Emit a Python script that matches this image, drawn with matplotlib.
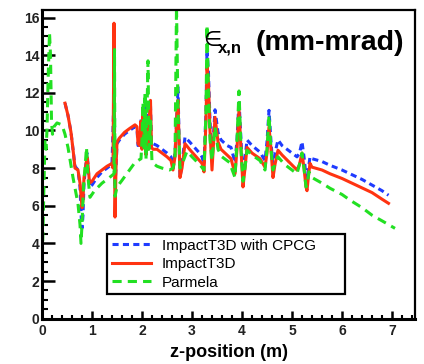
import matplotlib
matplotlib.use("Agg")
import matplotlib.pyplot as plt
from matplotlib.ticker import MultipleLocator

plt.rcParams['font.family'] = ['Liberation Sans', 'DejaVu Sans']

# ImpactT3D with CPCG (blue dashed)
cpcg_z = [0.46, 0.52, 0.58, 0.62, 0.66, 0.72, 0.76, 0.79, 0.80, 0.82, 0.84, 0.87, 0.90, 0.92, 0.95,
          1.00, 1.10, 1.20, 1.30, 1.40, 1.43, 1.44, 1.46, 1.48, 1.50, 1.55, 1.65, 1.75, 1.86, 1.90,
          1.92, 1.95, 1.98, 2.00, 2.02, 2.04, 2.06, 2.08, 2.10, 2.12, 2.15, 2.17, 2.19, 2.22, 2.30,
          2.40, 2.50, 2.58, 2.62, 2.66, 2.70, 2.72, 2.74, 2.76, 2.80, 2.86, 2.95, 3.05, 3.15, 3.20,
          3.24, 3.28, 3.30, 3.33, 3.36, 3.40, 3.46, 3.52, 3.58, 3.70, 3.78, 3.86, 3.90, 3.94, 3.98,
          4.02, 4.06, 4.10, 4.20, 4.36, 4.46, 4.50, 4.54, 4.58, 4.62, 4.66, 4.72, 4.80, 4.95, 5.10,
          5.15, 5.20, 5.24, 5.28, 5.30, 5.33, 5.36, 5.40, 5.60, 5.76, 6.00, 6.16, 6.40, 6.60, 6.80, 6.93]
cpcg_eps = [11.45, 10.8, 9.9, 9.0, 8.1, 7.9, 7.0, 5.0, 4.8, 5.5, 7.2, 8.0, 8.8, 8.2, 7.0,
            7.1, 7.5, 7.8, 8.0, 8.2, 11.0, 14.5, 7.0, 8.0, 9.3, 9.5, 9.8, 10.0, 10.2, 10.1,
            9.2, 9.3, 10.6, 9.1, 11.0, 9.0, 11.3, 8.8, 10.8, 9.1, 11.2, 11.3, 9.3, 9.3, 9.2,
            9.0, 8.8, 8.6, 8.0, 8.8, 11.0, 12.3, 9.8, 7.5, 8.2, 9.65, 9.4, 9.1, 8.8, 8.6,
            8.2, 11.0, 14.3, 13.0, 10.5, 8.5, 11.1, 9.9, 9.5, 9.2, 9.1, 8.3, 9.5, 11.6, 9.5,
            7.5, 8.5, 9.5, 9.2, 8.85, 8.4, 9.4, 11.07, 9.4, 8.0, 8.8, 9.5, 9.2, 8.9, 8.6,
            8.8, 9.4, 8.6, 7.6, 7.4, 8.0, 8.6, 8.5, 8.35, 8.15, 7.9, 7.7, 7.4, 7.1, 6.8, 6.56]

# ImpactT3D (red solid)
impact_z = [0.46, 0.52, 0.58, 0.62, 0.66, 0.72, 0.76, 0.80, 0.82, 0.84, 0.87, 0.90, 0.92, 0.95,
            1.00, 1.10, 1.20, 1.30, 1.40, 1.42, 1.43, 1.44, 1.45, 1.46, 1.48, 1.50, 1.55, 1.65, 1.75,
            1.86, 1.90, 1.92, 1.95, 1.98, 2.00, 2.02, 2.04, 2.06, 2.08, 2.10, 2.12, 2.15, 2.17, 2.19,
            2.22, 2.30, 2.40, 2.50, 2.58, 2.62, 2.66, 2.70, 2.72, 2.74, 2.76, 2.80, 2.86, 2.95, 3.05,
            3.15, 3.20, 3.24, 3.28, 3.30, 3.33, 3.36, 3.40, 3.46, 3.52, 3.58, 3.70, 3.78, 3.86, 3.90,
            3.94, 3.98, 4.02, 4.06, 4.10, 4.20, 4.36, 4.46, 4.50, 4.54, 4.58, 4.62, 4.66, 4.72, 4.80,
            4.95, 5.10, 5.15, 5.20, 5.24, 5.28, 5.30, 5.33, 5.36, 5.40, 5.60, 5.76, 6.00, 6.16, 6.40,
            6.60, 6.80, 6.93]
impact_eps = [11.45, 10.8, 9.9, 9.0, 8.0, 7.9, 7.2, 5.9, 6.3, 7.5, 8.0, 8.6, 8.2, 7.2,
              7.3, 7.7, 7.9, 8.1, 8.25, 8.0, 12.0, 15.7, 9.0, 5.4, 8.0, 9.4, 9.6, 9.9, 10.1,
              10.3, 10.2, 9.3, 9.2, 10.5, 9.0, 11.0, 9.2, 10.8, 8.7, 10.5, 9.0, 11.0, 11.6, 9.1,
              9.0, 9.0, 8.8, 8.6, 8.4, 7.9, 8.6, 11.0, 11.6, 9.5, 7.5, 8.0, 9.3, 9.0, 8.7,
              8.4, 8.25, 7.8, 10.5, 13.4, 12.5, 10.0, 7.9, 10.7, 9.4, 9.0, 8.7, 8.5, 7.7, 9.0,
              11.1, 9.0, 7.0, 8.0, 9.1, 8.8, 8.5, 8.05, 8.8, 10.2, 9.0, 7.5, 8.2, 8.95, 8.7,
              8.3, 7.9, 8.2, 8.8, 8.0, 7.0, 6.8, 7.6, 8.25, 8.05, 7.9, 7.7, 7.45, 7.25, 6.95,
              6.7, 6.35, 6.13]

# Parmela (green dashed)
parmela_z = [0.00, 0.03, 0.06, 0.08, 0.10, 0.12, 0.15, 0.17, 0.19, 0.21, 0.24, 0.30, 0.40, 0.46,
             0.52, 0.62, 0.72, 0.76, 0.78, 0.80, 0.83, 0.86, 0.89, 0.92, 0.96, 1.05, 1.20, 1.35,
             1.44, 1.45, 1.46, 1.50, 1.60, 1.75, 1.86, 1.98, 2.00, 2.02, 2.04, 2.06, 2.08, 2.10,
             2.12, 2.14, 2.17, 2.20, 2.30, 2.40, 2.55, 2.62, 2.66, 2.69, 2.72, 2.76, 2.80, 2.90,
             3.00, 3.15, 3.24, 3.28, 3.30, 3.33, 3.36, 3.40, 3.46, 3.52, 3.60, 3.75, 3.86, 3.90,
             3.94, 3.98, 4.02, 4.06, 4.10, 4.20, 4.36, 4.46, 4.50, 4.54, 4.58, 4.62, 4.66, 4.72,
             4.85, 5.00, 5.10, 5.15, 5.20, 5.24, 5.28, 5.30, 5.34, 5.40, 5.60, 5.76, 6.00, 6.16,
             6.40, 6.60, 6.80, 7.06]
parmela_eps = [2.5, 6.0, 9.5, 9.0, 10.0, 12.5, 15.2, 14.0, 10.5, 9.8, 10.2, 10.4, 10.3, 9.8,
               9.1, 7.5, 6.1, 5.0, 4.0, 5.0, 7.0, 8.0, 9.1, 7.5, 6.45, 6.8, 7.2, 7.5,
               7.7, 14.3, 6.5, 7.0, 7.35, 7.9, 8.3, 8.5, 9.5, 11.5, 9.0, 12.0, 8.5, 11.0,
               13.7, 9.0, 10.5, 8.3, 8.1, 8.0, 7.9, 8.0, 8.5, 16.6, 11.0, 8.0, 8.2, 8.9,
               8.6, 8.2, 7.9, 11.0, 15.6, 12.0, 9.5, 8.4, 10.2, 9.0, 8.6, 8.3, 7.5, 9.5,
               12.1, 9.0, 7.3, 8.0, 8.95, 8.7, 8.4, 7.9, 9.0, 10.8, 9.0, 7.9, 8.2, 8.6,
               8.2, 7.9, 7.7, 8.2, 8.8, 8.0, 7.0, 7.1, 7.8, 7.5, 7.2, 6.93, 6.6, 6.3,
               5.9, 5.5, 5.2, 4.8]

labels = ["ImpactT3D with CPCG", "ImpactT3D", "Parmela"]
x_ticks = [0, 1, 2, 3, 4, 5, 6, 7]
y_ticks = [0, 2, 4, 6, 8, 10, 12, 14, 16]

fig = plt.figure(figsize=(4.24, 3.64), dpi=100)
ax = fig.add_axes([42/424, 1 - 318.7/364, (415-42)/424, (318.7-10)/364])

blue = '#1f3bff'
red = '#ff3311'
green = '#22e022'
ax.plot(cpcg_z, cpcg_eps, color=blue, lw=2.2, ls=(0, (2.0, 1.4)), label=labels[0])
ax.plot(impact_z, impact_eps, color=red, lw=2.2, ls='-', label=labels[1])
ax.plot(parmela_z, parmela_eps, color=green, lw=2.2, ls=(0, (3.0, 2.0)), label=labels[2])

ax.set_xlim(0, 7.46)
ax.set_ylim(0, 16.4)
ax.set_xticks(x_ticks)
ax.set_yticks(y_ticks)
ax.xaxis.set_minor_locator(MultipleLocator(0.2))
ax.yaxis.set_minor_locator(MultipleLocator(0.5))
ax.tick_params(axis='y', which='major', direction='in', length=9, width=1.8, pad=2, labelsize=10)
ax.tick_params(axis='y', which='minor', direction='in', length=4.5, width=1.5)
ax.tick_params(axis='x', which='major', direction='in', length=6, width=1.8, pad=4, labelsize=10)
ax.tick_params(axis='x', which='minor', direction='in', length=3, width=1.5)
for lab in ax.get_xticklabels() + ax.get_yticklabels():
    lab.set_fontweight('bold')
    lab.set_color('#222222')
for s in ['left', 'bottom']:
    ax.spines[s].set_linewidth(2.2)
for s in ['top', 'right']:
    ax.spines[s].set_linewidth(1.6)

ax.set_xlabel("z-position (m)", fontsize=13, fontweight='bold', labelpad=4)

ax.text(3.22, 14.8, "\u2208", fontsize=15, ha='left', va='center', family=['DejaVu Sans'])
ax.text(3.52, 14.15, "x,n", fontsize=12, fontweight='bold', ha='left', va='baseline')
ax.text(4.27, 14.3, "(mm-mrad)", fontsize=20.5, fontweight='bold', ha='left', va='baseline')

ax_w, ax_h = 373.0, 308.7
leg_x0 = (107 - 42) / ax_w
leg_y0 = (318.7 - 294) / ax_h
leg_w = (345 - 107) / ax_w
leg_h = (294 - 234) / ax_h
leg = ax.legend(loc='upper left', bbox_to_anchor=(leg_x0, leg_y0, leg_w, leg_h), mode='expand',
                fontsize=11, frameon=True, fancybox=False, framealpha=1, edgecolor='black',
                handlelength=2.6, handletextpad=0.7, labelspacing=0.3, borderpad=0.3,
                borderaxespad=0)
leg.get_frame().set_linewidth(1.6)

fig.savefig("out.png", dpi=100)
